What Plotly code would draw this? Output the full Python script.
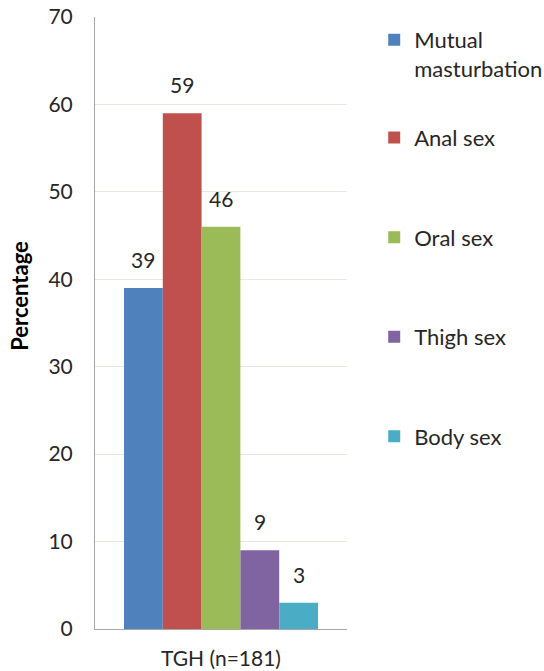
import plotly.graph_objects as go

# Sexual practices reported by the TGH group (percent)
category = ["TGH (n=181)"]
practices = ["Mutual<br>masturbation", "Anal sex", "Oral sex", "Thigh sex", "Body sex"]
percentages = [39, 59, 46, 9, 3]
colors = ["#4F81BD", "#C0504D", "#9BBB59", "#8064A2", "#4BACC6"]
y_ticks = [0, 10, 20, 30, 40, 50, 60, 70]

FONT = "Lato"
TEXT_COLOR = "#262626"
BAR_PX = 39  # approximate rendered width of one bar, for label offsets

fig = go.Figure()
n = len(practices)
for i, (name, val, col) in enumerate(zip(practices, percentages, colors)):
    fig.add_trace(go.Bar(
        x=category, y=[val], name=name,
        marker=dict(color=col, line=dict(width=0)),
        legendgroup=f"g{i}",
        # the two-line first entry gets its own legend box so the
        # remaining entries keep an even spacing
        legend="legend" if i == 0 else "legend2",
    ))
    fig.add_annotation(
        x=category[0], y=val, text=str(val), showarrow=False,
        xanchor="center", yanchor="bottom", yshift=14,
        xshift=(i - (n - 1) / 2) * BAR_PX,
        font=dict(family=FONT, size=21, color=TEXT_COLOR),
    )

# y-axis title, placed as a rotated annotation left of the tick labels
fig.add_annotation(
    text="<b>Percentage</b>", textangle=-90, showarrow=False,
    xref="paper", yref="paper", x=-0.30, y=0.545,
    xanchor="center", yanchor="middle",
    font=dict(family=FONT, size=22, color="#000000"),
)

legend_common = dict(
    xanchor="left", yanchor="top", x=1.108,
    font=dict(family=FONT, size=22, color=TEXT_COLOR),
    valign="top", bgcolor="rgba(0,0,0,0)",
)

fig.update_layout(
    width=544, height=671,
    margin=dict(l=95, r=197, t=17, b=42, autoexpand=False),
    paper_bgcolor="white", plot_bgcolor="white",
    barmode="group", bargap=0.23, bargroupgap=0,
    font=dict(family=FONT, size=21, color=TEXT_COLOR),
    showlegend=True,
    legend=dict(y=0.997, **legend_common),
    legend2=dict(y=0.837, tracegroupgap=68, **legend_common),
    xaxis=dict(
        showline=True, linecolor="#A6A6A6", linewidth=1,
        ticks="", ticklabelstandoff=11,
        tickfont=dict(family=FONT, size=21, color=TEXT_COLOR),
        showgrid=False,
    ),
    yaxis=dict(
        range=[0, 70], tickvals=y_ticks,
        showline=True, linecolor="#A6A6A6", linewidth=1,
        showgrid=True, gridcolor="#E8E8DC", gridwidth=1,
        ticks="", ticklabelstandoff=17,
        tickfont=dict(family=FONT, size=21, color=TEXT_COLOR),
        zeroline=False,
    ),
)

fig.write_html("out.html")
